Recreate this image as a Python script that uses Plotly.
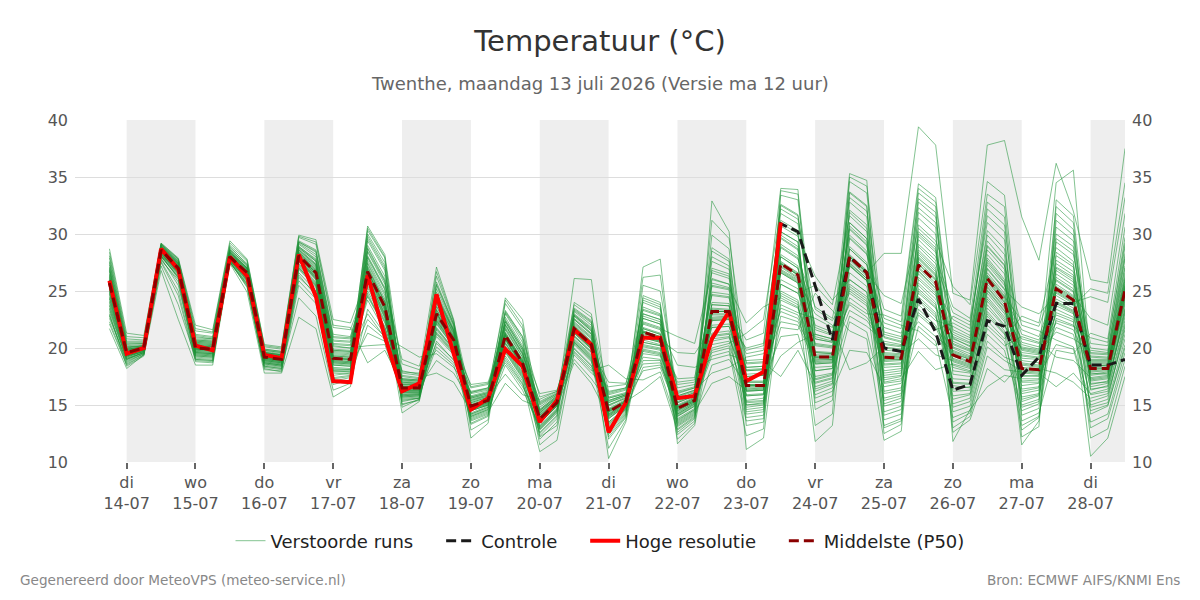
import numpy as np
import pandas as pd
import plotly.graph_objects as go

# ---------------- data ----------------
times = pd.date_range("2026-07-13 18:00", periods=60, freq="6h")

tick_dates = ["2026-07-14", "2026-07-15", "2026-07-16", "2026-07-17", "2026-07-18",
              "2026-07-19", "2026-07-20", "2026-07-21", "2026-07-22", "2026-07-23",
              "2026-07-24", "2026-07-25", "2026-07-26", "2026-07-27", "2026-07-28"]
tick_days = ["di", "wo", "do", "vr", "za", "zo", "ma", "di", "wo", "do", "vr", "za", "zo", "ma", "di"]
tick_labels = ["14-07", "15-07", "16-07", "17-07", "18-07", "19-07", "20-07", "21-07",
               "22-07", "23-07", "24-07", "25-07", "26-07", "27-07", "28-07"]
shaded_days = [("2026-07-14", "2026-07-15"), ("2026-07-16", "2026-07-17"), ("2026-07-18", "2026-07-19"),
               ("2026-07-20", "2026-07-21"), ("2026-07-22", "2026-07-23"), ("2026-07-24", "2026-07-25"),
               ("2026-07-26", "2026-07-27"), ("2026-07-28", "2026-07-28 12:00")]

hres = [25.9, 19.5, 20.0, 28.7, 26.9, 20.2, 19.8, 28.0, 26.3, 19.4,
        19.1, 28.2, 24.5, 17.1, 17.0, 26.4, 21.0, 16.2, 16.9, 24.7,
        19.5, 14.6, 15.6, 19.9, 18.4, 13.5, 15.4, 21.6, 20.3, 12.6,
        15.2, 20.9, 20.9, 15.6, 15.8, 20.8, 23.2, 17.1, 17.9, 31.0] + [None] * 20

control = [25.9, 19.5, 20.0, 28.7, 26.9, 20.2, 19.8, 28.0, 26.3, 19.4,
           19.1, 28.2, 24.5, 17.1, 17.0, 26.4, 21.0, 16.2, 16.9, 24.7,
           19.5, 14.6, 15.6, 19.9, 18.4, 13.5, 15.4, 21.6, 20.3, 12.6,
           15.2, 20.9, 20.9, 15.6, 15.8, 20.8, 23.2, 17.1, 17.9, 30.9,
           30.2, 25.4, 20.7, 28.0, 26.6, 20.0, 19.7, 24.3, 21.4, 16.3,
           16.8, 22.4, 21.9, 17.6, 19.2, 23.9, 23.9, 18.5, 18.5, 19.0]

median = [25.7, 19.6, 20.0, 28.6, 27.0, 20.0, 19.9, 28.0, 26.6, 19.2,
          19.0, 28.1, 26.6, 19.1, 19.0, 26.7, 23.6, 16.5, 16.5, 23.0,
          20.7, 14.9, 15.4, 21.1, 18.7, 13.8, 15.2, 21.7, 20.3, 14.4,
          15.3, 21.4, 20.9, 14.7, 15.4, 23.2, 23.2, 16.7, 16.7, 27.4,
          26.4, 19.2, 19.2, 28.0, 26.6, 19.2, 19.1, 27.3, 25.8, 19.4,
          18.8, 26.1, 24.1, 18.2, 18.1, 25.2, 24.2, 18.2, 18.2, 25.1]

# ensemble (50 perturbed runs): one row of 50 values per time step
ens_rows = [
 [25.8,24.1,26.9,22.3,25.2,27.6,23.5,25.9,28.7,24.7, 26.2,22.9,25.4,27.1,24.3,26.5,23.0,25.6,28.1,24.9,
  21.7,26.0,25.1,27.9,23.8,25.7,26.7,22.6,24.5,27.3, 25.3,23.2,26.3,28.4,24.0,25.5,22.1,26.8,24.8,27.5,
  23.7,25.0,26.4,22.8,25.9,27.0,24.4,26.1,23.4,25.4],
 [19.8,19.3,20.1,18.6,19.6,20.4,19.0,19.7,21.3,19.4, 19.9,18.8,19.5,20.2,19.2,19.9,18.4,19.6,20.8,19.3,
  18.2,19.7,19.5,20.6,19.1,19.6,20.0,18.9,19.3,20.3, 19.6,19.0,19.8,21.0,19.2,19.5,18.5,20.1,19.4,20.5,
  19.1,19.5,19.9,18.7,19.7,20.0,19.3,19.8,19.0,19.6],
 [20.0,19.7,20.2,19.4,19.9,20.4,19.6,20.0,21.1,19.8, 20.1,19.5,19.9,20.3,19.7,20.1,19.3,19.9,20.7,19.8,
  19.4,20.0,19.8,20.6,19.6,19.9,20.2,19.5,19.7,20.4, 19.9,19.6,20.1,20.9,19.7,19.9,19.4,20.2,19.8,20.5,
  19.6,19.9,20.1,19.5,20.0,20.2,19.7,20.1,19.6,19.9],
 [28.7,28.3,28.9,27.8,28.6,29.1,28.0,28.7,29.2,28.4, 28.8,27.5,28.5,29.0,28.2,28.8,26.8,28.6,29.1,28.3,
  27.2,28.7,28.5,29.0,28.1,28.6,28.9,27.9,28.3,29.0, 28.6,28.0,28.8,29.2,28.2,28.5,27.6,28.9,28.4,29.1,
  28.1,28.5,28.8,27.7,28.7,28.9,28.3,28.7,28.1,28.6],
 [27.1,26.6,27.4,25.8,27.0,27.7,26.2,27.2,27.9,26.8, 27.3,24.6,26.9,27.6,26.5,27.3,22.5,27.0,27.8,26.7,
  23.8,27.1,26.9,27.5,26.4,27.0,27.4,25.5,26.6,27.5, 27.0,26.3,27.2,27.8,26.5,26.9,25.0,27.4,26.8,27.6,
  26.1,26.9,27.3,26.0,27.1,27.4,26.7,27.2,26.2,27.0],
 [20.2,19.6,20.6,19.0,20.0,21.0,19.3,20.3,22.0,19.8, 20.4,18.8,19.9,20.8,19.5,20.5,18.5,20.1,21.5,19.7,
  19.1,20.2,19.9,21.2,19.4,20.0,20.7,19.2,19.6,20.9, 20.0,19.4,20.4,21.7,19.6,19.9,18.9,20.6,19.8,21.1,
  19.3,19.9,20.5,19.0,20.2,20.7,19.7,20.3,19.5,20.0],
 [20.1,19.5,20.5,18.9,19.9,20.8,19.2,20.2,21.6,19.7, 20.3,18.7,19.8,20.7,19.4,20.4,18.5,20.0,21.3,19.6,
  19.0,20.1,19.8,21.0,19.3,19.9,20.6,19.1,19.5,20.8, 19.9,19.3,20.3,21.4,19.5,19.8,18.8,20.5,19.7,20.9,
  19.2,19.8,20.4,18.9,20.1,20.6,19.6,20.2,19.4,19.9],
 [28.1,27.8,28.4,27.5,28.0,28.8,27.7,28.2,29.4,27.9, 28.3,27.6,28.0,28.6,27.8,28.4,27.4,28.1,29.0,27.9,
  27.5,28.1,27.9,28.9,27.7,28.0,28.5,27.6,27.8,28.7, 28.0,27.7,28.3,29.2,27.8,28.0,27.5,28.4,27.9,28.6,
  27.7,27.9,28.3,27.6,28.1,28.5,27.9,28.2,27.8,28.0],
 [26.7,26.2,27.0,25.6,26.6,27.4,25.9,26.8,27.8,26.4, 26.9,25.3,26.5,27.2,26.1,26.9,24.9,26.7,27.6,26.3,
  25.4,26.7,26.5,27.3,26.0,26.6,27.0,25.7,26.2,27.1, 26.6,25.9,26.8,27.7,26.1,26.5,25.5,27.0,26.4,27.3,
  25.8,26.5,26.9,25.6,26.7,27.0,26.3,26.8,26.0,26.6],
 [19.3,18.9,19.6,18.3,19.2,19.9,18.6,19.4,20.3,19.0, 19.5,18.2,19.1,19.8,18.8,19.5,17.8,19.3,20.1,19.0,
  18.4,19.3,19.1,19.9,18.7,19.2,19.6,18.5,18.9,19.7, 19.2,18.7,19.4,20.2,18.8,19.1,18.1,19.6,19.0,19.8,
  18.6,19.1,19.5,18.4,19.3,19.6,18.9,19.4,18.7,19.2],
 [19.1,18.7,19.4,18.1,19.0,19.7,18.4,19.2,20.1,18.8, 19.3,17.9,18.9,19.6,18.6,19.3,17.8,19.1,19.9,18.8,
  18.2,19.1,18.9,19.7,18.5,19.0,19.4,18.3,18.7,19.5, 19.0,18.5,19.2,20.0,18.6,18.9,18.0,19.4,18.8,19.6,
  18.4,18.9,19.3,18.2,19.1,19.4,18.7,19.2,18.5,19.0],
 [28.3,27.6,28.8,26.2,28.1,29.4,27.0,28.4,29.9,27.8, 28.6,25.5,28.0,29.2,27.4,28.7,22.7,28.2,29.7,27.7,
  24.4,28.3,28.0,29.3,27.2,28.1,28.9,26.6,27.6,29.1, 28.1,27.1,28.5,29.8,27.3,27.9,25.9,28.8,27.8,29.3,
  26.9,27.9,28.6,26.4,28.3,28.9,27.7,28.4,27.0,28.1],
 [26.8,26.0,27.6,24.8,26.6,28.6,25.5,27.0,29.5,26.2, 27.3,23.9,26.5,28.2,25.8,27.4,21.7,26.7,29.1,26.1,
  22.8,26.9,26.4,28.4,25.6,26.6,27.8,25.0,26.0,28.0, 26.6,25.4,27.2,29.3,25.7,26.3,24.3,27.6,26.2,28.5,
  25.3,26.4,27.3,24.6,26.8,27.7,26.1,27.1,25.5,26.6],
 [19.3,18.5,20.2,17.4,19.1,21.2,18.0,19.5,22.5,18.8, 19.8,16.8,19.0,20.6,18.3,19.9,15.7,19.2,21.8,18.7,
  16.3,19.4,18.9,20.9,18.1,19.1,20.4,17.6,18.5,20.7, 19.1,17.9,19.7,22.0,18.2,18.8,17.1,20.1,18.7,21.0,
  17.8,18.9,19.8,17.3,19.3,20.3,18.6,19.6,18.0,19.1],
 [19.2,18.4,20.0,17.6,19.0,21.0,18.0,19.4,22.2,18.7, 19.7,17.2,18.9,20.5,18.2,19.8,16.6,19.1,21.6,18.6,
  16.9,19.3,18.8,20.8,18.1,19.0,20.3,17.8,18.4,20.6, 19.0,17.9,19.6,21.8,18.1,18.7,17.4,20.0,18.6,20.9,
  17.7,18.8,19.7,17.5,19.2,20.2,18.5,19.5,17.9,19.0],
 [27.0,25.8,28.5,23.4,26.7,30.0,24.6,27.4,30.7,26.2, 27.9,21.3,26.5,29.4,25.5,28.1,18.7,26.9,30.3,26.0,
  20.2,27.2,26.4,29.6,25.0,26.7,28.7,22.5,25.8,29.0, 26.7,24.8,27.7,30.5,25.3,26.3,22.0,28.4,26.1,29.8,
  24.2,26.4,28.0,23.0,27.1,28.8,25.9,27.5,24.5,26.8],
 [24.0,22.6,25.8,21.2,23.6,27.5,21.9,24.3,28.2,23.0, 25.1,20.6,23.5,26.8,22.4,25.3,19.8,23.8,27.9,22.9,
  20.3,24.1,23.4,27.0,22.2,23.6,25.9,21.0,22.7,26.3, 23.6,21.7,24.8,28.0,22.3,23.2,20.8,25.6,23.0,27.2,
  21.5,23.3,25.2,20.9,24.0,26.0,22.8,24.6,21.8,23.7],
 [16.6,16.1,17.2,15.5,16.5,18.0,15.8,16.8,20.1,16.3, 17.0,15.1,16.4,17.6,15.9,17.1,14.3,16.6,19.0,16.2,
  14.8,16.7,16.4,17.8,15.8,16.5,17.3,15.3,16.0,17.5, 16.5,15.7,16.9,18.6,15.9,16.3,15.0,17.2,16.2,17.9,
  15.6,16.3,17.0,15.4,16.6,17.3,16.1,16.8,15.7,16.5],
 [16.6,16.1,17.1,15.6,16.5,17.7,15.9,16.8,19.2,16.3, 16.9,15.4,16.4,17.4,16.0,17.0,15.3,16.6,18.4,16.2,
  15.5,16.7,16.4,17.6,15.9,16.5,17.2,15.6,16.0,17.3, 16.5,15.8,16.9,18.1,15.9,16.3,15.5,17.1,16.2,17.8,
  15.7,16.3,16.9,15.6,16.6,17.2,16.1,16.8,15.8,16.5],
 [23.3,22.1,24.5,20.4,23.0,25.8,21.4,23.6,27.1,22.5, 24.1,19.5,22.9,25.2,21.8,24.3,17.8,23.1,26.3,22.4,
  18.9,23.4,22.8,25.5,21.6,23.0,24.7,20.1,22.2,24.9, 23.0,21.2,23.9,26.7,21.7,22.6,19.8,24.4,22.4,25.6,
  21.0,22.7,24.0,20.6,23.3,24.6,22.3,23.7,21.3,23.1],
 [20.9,20.1,21.5,19.0,20.7,22.1,19.7,21.0,22.5,20.4, 21.3,18.3,20.6,21.9,19.9,21.4,17.0,20.8,22.3,20.3,
  17.8,21.0,20.6,22.0,19.8,20.7,21.6,18.7,20.1,21.7, 20.7,19.5,21.2,22.4,19.9,20.5,18.5,21.5,20.3,22.1,
  19.4,20.5,21.3,18.9,20.9,21.6,20.2,21.1,19.6,20.8],
 [15.0,14.5,15.6,13.8,14.9,16.2,14.2,15.2,16.8,14.7, 15.4,13.3,14.8,16.0,14.3,15.5,12.1,15.0,16.5,14.6,
  12.8,15.1,14.8,16.1,14.1,14.9,15.7,13.6,14.5,15.8, 14.9,14.0,15.3,16.6,14.2,14.7,13.4,15.6,14.6,16.1,
  13.9,14.7,15.4,13.7,15.0,15.7,14.5,15.2,14.0,14.9],
 [15.5,15.0,16.0,14.4,15.4,16.5,14.8,15.7,17.0,15.2, 15.8,14.0,15.3,16.3,14.9,15.9,13.4,15.5,16.8,15.1,
  13.7,15.6,15.3,16.4,14.7,15.4,16.1,14.2,15.0,16.2, 15.4,14.6,15.8,16.9,14.8,15.2,14.1,16.0,15.1,16.5,
  14.5,15.2,15.9,14.3,15.5,16.1,15.0,15.7,14.6,15.4],
 [21.3,20.4,22.3,19.3,21.1,23.3,19.9,21.6,24.4,20.8, 22.0,18.5,21.0,23.0,20.2,22.1,16.9,21.2,23.9,20.7,
  17.7,21.4,20.9,23.1,20.0,21.1,22.5,18.9,20.4,22.7, 21.1,19.7,21.8,24.2,20.1,20.8,18.7,22.3,20.7,23.2,
  19.6,20.8,22.0,19.1,21.3,22.4,20.5,21.7,19.8,21.2],
 [18.9,18.1,19.8,17.1,18.7,21.0,17.6,19.2,22.5,18.4, 19.5,16.3,18.6,20.5,17.9,19.6,15.4,18.8,21.7,18.3,
  15.9,19.0,18.6,20.8,17.7,18.7,20.0,16.8,18.1,20.2, 18.7,17.4,19.4,22.0,17.8,18.4,16.6,19.8,18.3,21.0,
  17.3,18.5,19.5,16.9,18.9,20.0,18.2,19.2,17.5,18.8],
 [13.9,13.4,14.5,12.6,13.8,15.3,13.0,14.1,16.0,13.6, 14.3,12.0,13.7,15.0,13.2,14.4,10.9,13.9,15.7,13.5,
  11.5,14.0,13.7,15.1,13.1,13.8,14.6,12.3,13.4,14.8, 13.8,12.9,14.2,15.5,13.1,13.6,12.2,14.5,13.5,15.2,
  12.8,13.6,14.3,12.5,13.9,14.6,13.4,14.1,12.9,13.8],
 [15.3,14.9,15.7,14.1,15.2,16.1,14.5,15.4,16.3,15.1, 15.6,13.5,15.2,15.9,14.7,15.6,11.9,15.3,16.2,15.0,
  12.8,15.4,15.1,16.0,14.6,15.2,15.8,13.8,14.9,15.9, 15.2,14.4,15.5,16.2,14.6,15.1,13.2,15.7,15.0,16.0,
  14.3,15.1,15.6,14.0,15.3,15.8,14.9,15.4,14.5,15.2],
 [21.9,21.0,22.8,20.0,21.7,23.5,20.5,22.1,26.1,21.4, 22.5,19.4,21.6,23.2,20.8,22.6,18.7,21.8,24.0,21.3,
  19.0,22.0,21.5,23.3,20.6,21.7,22.9,19.7,21.0,23.0, 21.7,20.4,22.3,23.8,20.7,21.4,19.6,22.8,21.3,23.4,
  20.3,21.5,22.5,19.9,21.9,22.9,21.1,22.2,20.5,21.8],
 [20.5,19.6,21.5,18.5,20.3,22.4,19.1,20.8,26.0,20.0, 21.2,17.8,20.2,22.0,19.4,21.3,16.9,20.4,23.0,19.9,
  17.3,20.6,20.1,22.2,19.2,20.3,21.6,18.2,19.6,21.8, 20.3,18.9,21.0,22.7,19.3,20.0,18.0,21.5,19.9,22.3,
  18.8,20.1,21.2,18.4,20.5,21.7,19.7,20.9,19.0,20.4],
 [14.6,13.8,15.4,12.8,14.4,16.2,13.3,14.9,18.5,14.1, 15.2,12.0,14.3,15.9,13.5,15.3,10.3,14.5,17.0,14.0,
  11.2,14.7,14.2,16.0,13.4,14.4,15.6,12.4,13.8,15.7, 14.4,13.1,15.0,16.6,13.5,14.1,12.2,15.4,14.0,16.1,
  12.9,14.2,15.2,12.6,14.6,15.6,13.9,15.0,13.2,14.5],
 [15.4,15.0,15.9,14.3,15.3,16.5,14.7,15.6,17.3,15.1, 15.8,13.9,15.2,16.3,14.8,15.9,13.5,15.4,16.9,15.0,
  13.7,15.5,15.2,16.4,14.6,15.3,16.0,14.1,14.9,16.1, 15.3,14.5,15.7,16.8,14.7,15.1,14.0,15.9,15.0,16.5,
  14.4,15.1,15.8,14.2,15.4,16.0,14.9,15.6,14.6,15.3],
 [21.7,20.5,23.0,19.2,21.4,24.6,19.9,22.1,27.1,21.0, 22.6,18.0,21.3,24.0,20.3,22.8,16.3,21.5,25.5,20.9,
  17.2,21.8,21.2,24.2,20.1,21.4,23.3,18.6,20.5,23.6, 21.4,19.7,22.3,26.2,20.2,21.0,18.3,23.0,20.9,24.4,
  19.5,21.1,22.6,18.9,21.7,23.4,20.7,22.2,19.8,21.5],
 [21.2,20.2,22.5,19.0,20.9,24.0,19.6,21.6,27.8,20.6, 22.1,18.3,20.8,23.4,20.0,22.3,17.5,21.0,25.0,20.5,
  17.9,21.3,20.7,23.6,19.8,20.9,22.8,18.7,20.2,23.0, 20.9,19.4,21.8,26.4,19.9,20.6,18.5,22.5,20.5,23.8,
  19.3,20.7,22.1,18.9,21.2,22.9,20.3,21.7,19.5,21.0],
 [14.9,14.0,15.8,13.1,14.7,17.0,13.5,15.2,21.0,14.3, 15.5,12.4,14.6,16.5,13.8,15.7,11.6,14.8,18.5,14.2,
  12.0,15.0,14.5,16.8,13.6,14.7,16.0,12.8,14.0,16.2, 14.7,13.3,15.3,19.6,13.7,14.4,12.6,15.8,14.2,17.3,
  13.2,14.5,15.5,12.9,14.9,16.1,14.1,15.2,13.4,14.8],
 [15.6,14.9,16.3,14.1,15.4,17.2,14.5,15.8,20.4,15.2, 16.1,13.6,15.3,16.8,14.7,16.2,13.2,15.5,18.3,15.1,
  13.4,15.7,15.3,17.0,14.6,15.4,16.5,13.9,14.9,16.6, 15.4,14.3,15.9,19.5,14.6,15.2,13.8,16.3,15.1,17.4,
  14.2,15.3,16.1,14.0,15.6,16.5,15.0,15.8,14.4,15.5],
 [23.8,21.8,26.0,19.8,23.2,28.5,20.6,24.6,32.9,22.6, 25.4,18.5,23.0,27.6,21.3,25.7,16.9,23.5,29.9,22.4,
  17.8,24.0,22.9,28.0,21.0,23.2,26.6,19.3,21.8,27.0, 23.2,20.3,24.9,31.2,21.1,22.5,19.0,26.1,22.4,28.8,
  20.0,22.7,25.5,19.6,23.8,26.8,22.0,24.7,20.8,23.4],
 [23.7,21.9,25.6,20.2,23.2,27.6,20.9,24.4,30.2,22.7, 25.1,19.0,23.0,26.9,21.5,25.3,17.5,23.4,28.7,22.5,
  18.3,23.9,22.9,27.2,21.2,23.2,26.1,19.7,21.9,26.5, 23.2,20.6,24.7,29.6,21.3,22.6,19.4,25.6,22.5,27.8,
  20.4,22.8,25.2,20.0,23.7,26.3,22.1,24.5,21.0,23.3],
 [17.0,15.8,18.3,14.4,16.7,19.8,15.0,17.5,22.2,16.3, 18.0,13.2,16.6,19.2,15.4,18.1,11.1,16.8,20.7,16.2,
  12.3,17.1,16.5,19.5,15.2,16.7,18.6,13.9,15.8,18.9, 16.7,14.8,17.7,21.3,15.3,16.3,13.6,18.3,16.2,20.0,
  14.6,16.4,18.0,14.2,17.0,18.7,15.9,17.5,15.0,16.8],
 [17.0,15.9,18.4,14.6,16.7,20.2,15.2,17.6,23.6,16.4, 18.1,13.5,16.6,19.5,15.6,18.2,12.1,16.8,21.3,16.3,
  12.9,17.1,16.5,19.8,15.3,16.7,18.7,14.1,15.9,19.0, 16.7,15.0,17.8,22.5,15.4,16.3,13.8,18.4,16.3,20.4,
  14.8,16.5,18.1,14.4,17.0,18.8,16.0,17.6,15.1,16.8],
 [28.0,25.6,30.2,23.2,27.4,32.5,24.2,28.8,34.0,26.8, 29.6,21.0,27.2,31.8,25.0,29.9,17.5,27.6,33.4,26.6,
  19.3,28.2,27.1,32.2,24.6,27.4,30.7,22.3,25.6,31.2, 27.4,23.8,29.1,33.8,24.8,26.7,21.8,30.2,26.6,32.6,
  23.5,26.9,29.7,22.8,28.0,31.0,26.0,28.9,24.4,27.5],
 [27.0,24.8,29.3,22.6,26.4,31.6,23.5,27.8,33.9,25.9, 28.6,21.2,26.2,30.9,24.2,28.9,19.8,26.6,33.0,25.7,
  20.5,27.2,26.1,31.3,23.8,26.4,29.8,22.0,24.8,30.3, 26.4,23.1,28.1,33.5,24.0,25.8,21.6,29.3,25.7,31.7,
  22.9,26.0,28.7,22.3,27.0,30.0,25.2,27.9,23.6,26.5],
 [19.6,18.0,21.2,16.2,19.2,23.4,17.0,20.2,26.3,18.8, 20.8,14.6,19.1,22.6,17.5,21.0,11.8,19.4,24.8,18.6,
  13.2,19.7,19.0,23.0,17.2,19.2,21.6,15.6,18.0,22.0, 19.2,16.6,20.4,25.5,17.3,18.7,15.2,21.2,18.6,23.6,
  16.4,18.9,20.8,15.9,19.6,21.8,18.3,20.3,16.9,19.3],
 [19.5,18.2,20.8,16.8,19.2,22.4,17.4,20.0,24.2,18.9, 20.5,15.4,19.1,21.8,17.8,20.6,13.2,19.4,23.3,18.7,
  14.2,19.6,19.0,22.0,17.6,19.2,21.1,16.2,18.2,21.4, 19.2,17.1,20.2,23.8,17.7,18.8,15.8,20.8,18.7,22.6,
  16.9,19.0,20.5,16.5,19.5,21.2,18.4,20.1,17.3,19.3],
 [28.7,26.0,31.0,23.8,28.0,33.6,24.8,29.6,35.3,27.4, 30.4,21.5,27.8,32.8,25.6,30.7,18.1,28.2,34.6,27.2,
  19.8,28.9,27.7,33.2,25.2,28.0,31.6,22.8,26.0,32.1, 28.0,24.4,29.9,35.0,25.4,27.3,22.3,31.0,27.2,33.7,
  24.0,27.5,30.5,23.3,28.7,31.9,26.6,29.7,25.0,28.1],
 [27.3,24.9,29.6,22.7,26.6,32.4,23.7,28.2,34.7,26.1, 29.0,20.8,26.4,31.5,24.5,29.3,18.7,26.8,33.6,25.9,
  19.6,27.5,26.3,32.0,24.1,26.6,30.2,21.9,24.9,30.8, 26.6,23.3,28.5,34.2,24.3,25.9,21.4,29.6,25.9,32.5,
  23.0,26.1,29.1,22.4,27.3,30.5,25.4,28.3,23.9,26.7],
 [17.4,21.0,13.2,19.8,22.6,15.6,18.6,20.4,28.3,16.2, 19.2,23.4,14.4,18.0,20.9,11.9,19.5,17.0,21.8,15.1,
  20.1,13.7,18.8,22.2,16.6,19.0,12.5,21.4,17.8,19.6, 14.9,20.6,18.3,16.0,24.6,19.3,13.0,21.2,17.6,18.9,
  15.4,20.0,19.1,14.1,22.9,18.5,16.9,20.3,19.4,17.2],
 [17.6,20.6,13.8,19.7,22.0,16.0,18.7,20.2,28.3,16.5, 19.2,22.8,14.9,18.2,20.5,12.7,19.4,17.3,21.3,15.6,
  19.9,14.2,18.9,21.7,16.9,19.0,13.3,21.0,18.0,19.5, 15.3,20.3,18.4,16.3,23.9,19.2,13.6,20.8,17.8,19.0,
  15.8,19.8,19.1,14.6,22.3,18.6,17.1,20.1,19.3,17.5],
 [30.2,24.8,27.9,33.6,21.5,28.6,26.0,31.4,39.4,23.4, 27.3,34.4,25.2,29.5,22.3,27.6,32.8,19.7,26.5,30.8,
  24.1,28.2,27.0,33.1,22.9,26.8,29.1,25.7,31.9,20.8, 27.4,24.5,28.9,26.2,30.5,23.8,27.8,32.3,25.0,28.4,
  21.9,26.7,29.8,24.3,34.0,27.1,25.5,30.0,23.1,28.0],
 [28.8,23.5,26.4,32.4,20.2,27.1,24.6,30.0,37.8,22.0, 25.9,33.2,23.8,28.0,21.0,26.1,31.5,18.1,25.0,29.4,
  22.7,26.7,25.5,31.9,21.6,25.3,27.7,24.3,30.6,19.4, 26.0,23.1,27.4,24.8,29.1,22.4,26.3,31.0,23.6,26.9,
  20.6,25.2,28.4,22.9,32.8,25.7,24.0,28.6,21.8,26.5],
 [16.4,21.2,19.6,13.5,22.8,18.0,20.4,15.1,24.8,19.1, 12.6,20.8,17.3,23.6,19.8,14.4,21.6,18.6,16.9,25.4,
  19.4,13.0,20.1,17.7,22.2,15.8,19.3,21.0,11.8,18.9, 20.6,16.2,23.1,19.0,14.8,21.9,18.3,20.0,17.0,19.5,
  13.9,22.5,18.8,15.5,20.3,19.7,16.7,21.4,18.5,20.9],
 [16.6,20.5,19.0,14.3,22.0,17.8,19.8,15.6,24.2,18.6, 13.7,20.2,17.2,22.6,19.2,14.9,20.9,18.2,16.8,23.8,
  18.8,14.0,19.5,17.5,21.4,16.0,18.7,20.4,14.6,18.4, 19.9,16.3,22.3,18.5,15.3,21.1,17.9,19.3,16.9,19.0,
  14.5,21.7,18.3,15.9,19.7,19.1,16.5,20.7,18.0,20.1],
 [23.8,29.4,26.2,20.1,31.6,25.0,27.7,22.4,37.8,26.4, 18.2,28.6,24.5,33.5,26.9,21.2,30.3,25.6,23.2,34.6,
  26.1,19.3,27.3,24.1,32.2,22.8,26.0,28.9,16.6,25.3, 27.0,23.5,31.0,25.8,21.7,29.9,24.8,27.5,23.0,26.6,
  20.6,32.8,25.4,22.0,28.2,26.3,24.3,29.0,25.1,27.9],
 [22.0,27.6,24.4,18.9,30.2,23.2,25.8,20.8,38.2,24.6, 17.0,26.9,22.7,32.4,25.1,19.8,28.7,23.8,21.5,33.4,
  24.2,18.1,25.5,22.3,30.8,21.2,24.0,27.2,17.6,23.5, 25.2,21.9,29.5,24.0,20.2,28.2,23.0,25.7,21.3,24.8,
  19.2,31.5,23.6,20.6,26.5,24.5,22.5,27.3,23.3,26.0],
 [19.4,15.3,21.6,18.0,13.6,20.3,17.1,22.8,31.5,16.4, 18.7,12.2,19.9,17.6,23.6,14.5,18.3,20.8,16.0,19.1,
  11.5,17.9,21.2,15.7,18.5,19.6,13.2,22.0,17.3,18.9, 16.7,20.0,14.1,18.1,21.0,15.0,19.3,17.5,12.8,20.5,
  18.6,16.2,19.8,14.8,17.8,22.4,18.2,15.5,20.1,17.0],
 [19.2,15.8,21.0,17.9,14.3,19.9,17.2,22.2,27.7,16.6, 18.5,13.1,19.6,17.5,23.0,15.1,18.2,20.4,16.3,19.0,
  13.6,17.8,20.7,16.0,18.3,19.4,14.0,21.5,17.3,18.7, 16.9,19.7,14.7,18.0,20.5,15.5,19.1,17.6,13.9,20.1,
  18.4,16.5,19.5,15.3,17.7,21.9,18.1,15.9,19.8,17.0],
 [27.4,22.6,25.3,30.6,19.8,26.2,24.0,28.8,36.2,23.4, 25.9,33.0,21.4,27.0,24.6,31.8,17.8,25.1,29.3,22.9,
  26.5,16.6,24.8,28.1,23.1,34.5,25.6,20.7,27.7,24.3, 30.0,22.2,25.2,26.8,19.2,28.4,24.1,32.4,23.7,25.4,
  21.8,27.1,24.9,29.6,20.3,26.0,23.9,31.2,25.0,22.4],
 [26.4,22.0,24.4,29.4,19.5,25.2,23.2,27.6,32.0,22.7, 24.9,31.6,20.8,26.0,23.7,30.4,17.0,24.2,28.2,22.3,
  25.5,17.8,23.9,27.1,22.5,35.6,24.6,20.1,26.7,23.5, 28.9,21.6,24.3,25.8,18.9,27.3,23.3,31.0,23.0,24.5,
  21.2,26.2,24.0,28.5,19.9,25.0,23.1,29.9,24.1,21.9],
 [17.6,19.2,15.0,18.4,21.3,16.3,18.9,14.2,26.0,17.9, 12.1,18.6,19.8,16.8,25.2,18.1,15.6,17.3,20.4,13.5,
  18.3,16.0,19.0,17.1,10.5,18.7,22.6,15.3,17.7,19.5, 16.6,18.2,14.8,20.0,17.4,18.5,13.0,16.9,19.3,18.0,
  15.9,17.2,24.5,18.8,14.5,19.6,16.4,18.4,17.8,20.9],
 [17.8,19.1,15.5,18.5,20.8,16.7,18.9,14.9,25.7,18.0, 12.9,18.6,19.6,17.1,24.8,18.2,16.0,17.5,20.2,14.2,
  18.3,16.4,19.0,17.3,12.1,18.7,22.0,15.8,17.9,19.4, 16.9,18.2,15.2,19.8,17.6,18.4,13.8,17.0,19.2,18.1,
  16.2,17.4,24.0,18.8,15.0,19.5,16.6,18.5,17.7,20.5],
 [24.0,27.8,21.9,25.4,30.6,23.2,26.1,20.3,37.5,24.7, 18.4,25.8,28.9,22.7,34.5,25.0,21.2,24.4,29.7,19.6,
  25.3,22.4,26.6,23.8,17.5,25.6,31.8,21.6,24.9,27.2, 23.0,25.2,20.8,28.3,24.2,26.0,19.0,23.5,27.0,25.1,
  22.1,24.6,33.2,26.3,20.0,28.0,23.4,25.5,24.5,29.2],
]

# which run each row's values belong to (order offset of the listed values per time step)
row_order_offset = [0] * 15 + [17, 17, 36, 36, 33, 33, 21, 21, 8, 8, 45, 45, 25, 25, 3,
                                3, 41, 41, 30, 30, 12, 12, 19, 19, 29, 29, 47, 47, 4, 4] + [0] * 15

assert len(ens_rows) == 60, len(ens_rows)
for _i, _r in enumerate(ens_rows):
    assert len(_r) == 50, (_i, len(_r))

members = np.array([np.roll(np.array(r), s) for r, s in zip(ens_rows, row_order_offset)]).T

# ---------------- figure ----------------
FONT = "DejaVu Sans"
PAD = "\u00a0\u00a0\u00a0\u00a0"
fig = go.Figure()

for k, m in enumerate(members):
    fig.add_trace(go.Scatter(
        x=times, y=m, mode="lines", name="Verstoorde runs" + PAD, legendgroup="ens",
        showlegend=(k == 0), hoverinfo="skip",
        line=dict(color="rgba(30,145,55,0.55)", width=1)))

fig.add_trace(go.Scatter(x=times, y=control, mode="lines", name="Controle" + PAD,
                         line=dict(color="#1a1a1a", width=3, dash="10px,5px")))
fig.add_trace(go.Scatter(x=times, y=hres, mode="lines", name="Hoge resolutie" + PAD,
                         line=dict(color="#ff0000", width=4)))
fig.add_trace(go.Scatter(x=times, y=median, mode="lines", name="Middelste (P50)",
                         line=dict(color="#8b0000", width=3, dash="10px,5px")))
# helper trace so the right-hand axis is drawn
fig.add_trace(go.Scatter(x=[times[0]], y=[median[0]], yaxis="y2", mode="lines",
                         showlegend=False, hoverinfo="skip", line=dict(width=0)))

shapes = []
for a, b in shaded_days:
    shapes.append(dict(type="rect", xref="x", yref="paper", x0=a, x1=b, y0=0, y1=1,
                       fillcolor="#eeeeee", line=dict(width=0), layer="below"))

axis_font = dict(family=FONT, size=16, color="#555555")
fig.update_layout(
    width=1200, height=600,
    margin=dict(l=75, r=75, t=120, b=138),
    paper_bgcolor="white", plot_bgcolor="white",
    font=dict(family=FONT, color="#333333"),
    title=dict(text="Temperatuur (°C)", x=0.5, xanchor="center", y=1 - 41 / 600, yanchor="middle",
               font=dict(family=FONT, size=29, color="#333333")),
    shapes=shapes,
    xaxis=dict(type="date", range=["2026-07-13 06:00", "2026-07-28 12:00"],
               tickvals=tick_dates,
               ticktext=[f"{d}<br>{t}" for d, t in zip(tick_days, tick_labels)],
               ticks="outside", ticklen=6, tickwidth=2, tickcolor="#666666",
               showgrid=False, zeroline=False, showline=False, tickfont=axis_font),
    yaxis=dict(range=[10, 40], tick0=10, dtick=5, gridcolor="#dddddd", gridwidth=1,
               zeroline=False, showline=False, tickfont=axis_font, ticklabelstandoff=6),
    yaxis2=dict(range=[10, 40], tick0=10, dtick=5, overlaying="y", side="right",
                showgrid=False, zeroline=False, showline=False, tickfont=axis_font,
                ticklabelstandoff=6),
    legend=dict(orientation="h", x=0.5, xanchor="center", y=(462 - 541) / 342, yanchor="middle",
                font=dict(family=FONT, size=18, color="#222222"), bgcolor="rgba(0,0,0,0)"),
    showlegend=True,
    annotations=[
        dict(text="Twenthe, maandag 13 juli 2026 (Versie ma 12 uur)", xref="paper", yref="paper",
             x=0.5, y=(462 - 83) / 342, xanchor="center", yanchor="middle", showarrow=False,
             font=dict(family=FONT, size=18, color="#666666")),
        dict(text="Gegenereerd door MeteoVPS (meteo-service.nl)", xref="paper", yref="paper",
             x=(18 - 75) / 1050, y=(462 - 580) / 342, xanchor="left", yanchor="middle", showarrow=False,
             font=dict(family=FONT, size=13.6, color="#888888")),
        dict(text="Bron: ECMWF AIFS/KNMI Ens", xref="paper", yref="paper",
             x=(1182 - 75) / 1050, y=(462 - 580) / 342, xanchor="right", yanchor="middle", showarrow=False,
             font=dict(family=FONT, size=13.6, color="#888888")),
    ],
)

fig.write_html("out.html")
